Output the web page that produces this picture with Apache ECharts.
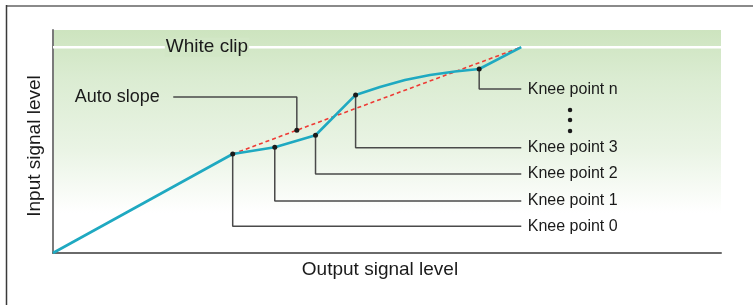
<!DOCTYPE html>
<html>
<head>
<meta charset="utf-8">
<script src="https://cdn.jsdelivr.net/npm/echarts@6/dist/echarts.min.js"></script>
<style>
  html, body { margin: 0; padding: 0; background: #fff; }
  #chart { width: 753px; height: 305px; }
</style>
</head>
<body>
<div id="chart"></div>
<script>
// transfer curve (0..100 on both axes)
const curveX = [0, 26.9, 33.2, 39.3, 45.3, 48.95, 52.69, 56.44, 60.18, 63.8, 70.1];
const curveY = [0, 44.4, 47.4, 52.8, 70.9, 74.44, 77.58, 79.82, 81.39, 82.5, 92.3];

const kneeNames = ["Knee point 0", "Knee point 1", "Knee point 2", "Knee point 3", "Knee point n"];
const kneeX = [26.9, 33.2, 39.3, 45.3, 63.8];
const kneeY = [44.4, 47.4, 52.8, 70.9, 82.5];
const kneeLabelY = [12.0, 23.3, 35.4, 47.2, 73.5];
const leaderEndX = 70.1;

const slopeX = [26.9, 70.1];
const slopeY = [44.4, 92.3];
const autoSlopePt = [36.5, 55.0];
const autoSlopeLabel = [18.0, 70.0];

const whiteClipY = 92.3;
const whiteClipLabelX = 23.05;

const moreDotsX = 77.4;
const moreDotsY = [64.1, 59.6, 54.7];

const FONT = "Liberation Sans, Arial, Helvetica, sans-serif";
const TEXT = "#1a1a1a";

const chart = echarts.init(document.getElementById("chart"));

const series = [];

// white clip line
series.push({
  type: "line", silent: true, symbol: "none", z: 1,
  data: [[0, whiteClipY], [100, whiteClipY]],
  lineStyle: { color: "#ffffff", width: 2.5 }
});

// leader lines for knee points
kneeNames.forEach((name, i) => {
  series.push({
    type: "line", silent: true, symbol: "none", z: 2,
    data: [[kneeX[i], kneeY[i]], [kneeX[i], kneeLabelY[i]], [leaderEndX, kneeLabelY[i]]],
    lineStyle: { color: "#4a4a4a", width: 1.5 }
  });
});

// auto slope leader
series.push({
  type: "line", silent: true, symbol: "none", z: 2,
  data: [autoSlopeLabel, [autoSlopePt[0], autoSlopeLabel[1]], autoSlopePt],
  lineStyle: { color: "#4a4a4a", width: 1.5 }
});

// auto slope (dashed red)
series.push({
  type: "line", silent: true, symbol: "none", z: 3,
  data: slopeX.map((x, i) => [x, slopeY[i]]),
  lineStyle: { color: "#ee3a35", width: 1.6, type: [4, 3] }
});

// transfer curve
series.push({
  type: "line", silent: true, symbol: "none", z: 4,
  data: curveX.map((x, i) => [x, curveY[i]]),
  lineStyle: { color: "#1fa9c1", width: 2.6 }
});

// dots on the knees + auto slope point
series.push({
  type: "scatter", silent: true, z: 5,
  symbolSize: 5,
  itemStyle: { color: "#1a1a1a", opacity: 1 },
  data: kneeX.map((x, i) => [x, kneeY[i]]).concat([autoSlopePt])
});

// vertical ellipsis
series.push({
  type: "scatter", silent: true, z: 5,
  symbolSize: 4.5,
  itemStyle: { color: "#1a1a1a", opacity: 1 },
  data: moreDotsY.map(y => [moreDotsX, y])
});

// text labels
const labelData = kneeNames.map((name, i) => ({
  value: [leaderEndX, kneeLabelY[i]],
  label: { show: true, formatter: name, position: "right", distance: 6, fontSize: 16, color: TEXT, fontFamily: FONT }
}));
labelData.push({
  value: autoSlopeLabel,
  label: { show: true, formatter: "Auto slope", position: "left", distance: 13, fontSize: 18, color: TEXT, fontFamily: FONT }
});
labelData.push({
  value: [whiteClipLabelX, whiteClipY],
  label: {
    show: true, formatter: "White clip", position: "inside", fontSize: 19, color: TEXT, fontFamily: FONT,
    backgroundColor: "#d2e7c6", padding: [0, 1]
  }
});
series.push({
  type: "scatter", silent: true, z: 6,
  symbolSize: 1,
  itemStyle: { color: "rgba(0,0,0,0)", opacity: 1 },
  data: labelData
});

chart.setOption({
  animation: false,
  backgroundColor: "#ffffff",
  grid: {
    left: 53, right: 32, top: 30, bottom: 52,
    show: true, borderWidth: 0,
    backgroundColor: new echarts.graphic.LinearGradient(0, 0, 0, 1, [
      { offset: 0, color: "#cde4bf" },
      { offset: 0.22, color: "#dbecd2" },
      { offset: 0.54, color: "#eaf4e5" },
      { offset: 0.82, color: "#ffffff" },
      { offset: 1, color: "#ffffff" }
    ])
  },
  xAxis: {
    type: "value", min: 0, max: 100,
    name: "Output signal level", nameLocation: "middle", nameGap: 7,
    nameTextStyle: { fontSize: 19, color: TEXT, fontFamily: FONT, verticalAlign: "top", padding: [0, 14, 0, 0] },
    axisLine: { show: true, lineStyle: { color: "#6a6a6a", width: 2 } },
    axisTick: { show: false }, axisLabel: { show: false }, splitLine: { show: false }
  },
  yAxis: {
    type: "value", min: 0, max: 100,
    name: "Input signal level", nameLocation: "middle", nameGap: 9,
    nameTextStyle: { fontSize: 19, color: TEXT, fontFamily: FONT, padding: [0, 9, 0, 0] },
    axisLine: { show: true, lineStyle: { color: "#7a7a7a", width: 2 } },
    axisTick: { show: false }, axisLabel: { show: false }, splitLine: { show: false }
  },
  graphic: [
    { type: "line", shape: { x1: 6, y1: 6, x2: 753, y2: 6 }, style: { stroke: "#8a8a8a", lineWidth: 2 } },
    { type: "line", shape: { x1: 6.5, y1: 5, x2: 6.5, y2: 305 }, style: { stroke: "#3a3a3a", lineWidth: 1.5 } }
  ],
  series: series
});
</script>
</body>
</html>
